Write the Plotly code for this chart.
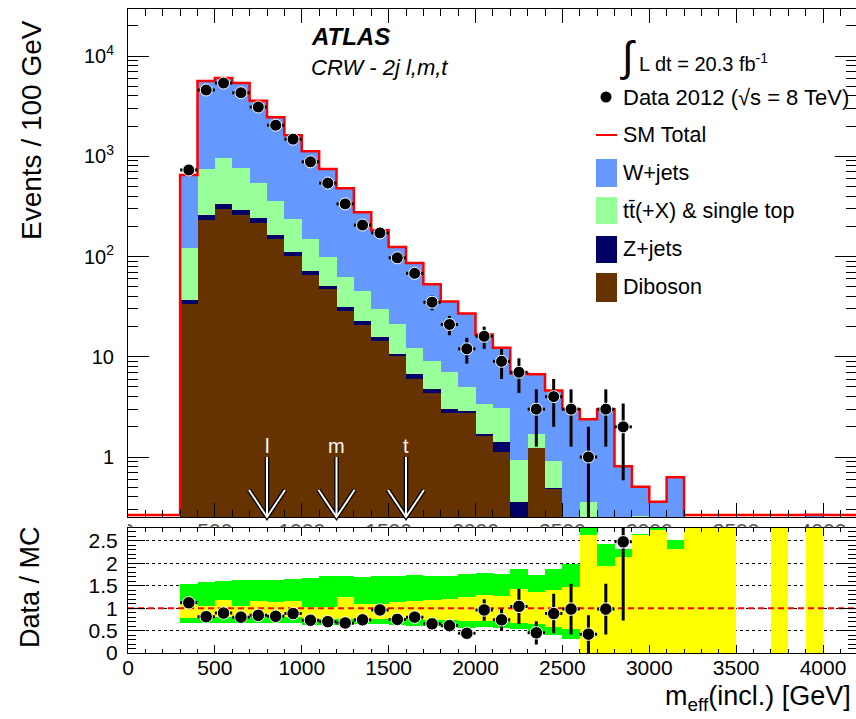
import numpy as np
import plotly.graph_objects as go

# ---------------- data ----------------
BIN_W = 100
bin_lo = list(range(300, 4000, 100))          # 37 bins, 300 .. 3900 GeV

diboson = [33.6, 231, 297, 258, 215, 149, 101, 65.4, 47.0, 28.5, 20.7, 14.3, 10.15, 6.04, 4.32,
           2.75, 2.77, 1.63, 1.11, 0, 1.24, 0.48, 0, 0, 0, 0, 0, 0, 0,
           0, 0, 0, 0, 0, 0, 0, 0]
zjets = [3.2, 27, 38, 32, 27, 15, 9, 6.2, 4.2, 2.6, 2.0, 1.6, 0.45, 0.76, 0.40,
         0.28, 0.11, 0.05, 0.31, 0.358, 0, 0.01, 0, 0, 0, 0, 0, 0, 0,
         0, 0, 0, 0, 0, 0, 0, 0]
ttbar = [85, 487, 625, 472, 298, 192, 126, 77.4, 47.8, 31.1, 22.8, 13.8, 10.6, 5.5, 4.38,
         4.07, 2.08, 1.70, 1.64, 0.572, 0.45, 0.43, 0, 0.353, 0, 0, 0.26, 0, 0,
         0, 0, 0, 0, 0, 0, 0, 0]
wjets = [528, 4875, 5070, 4608, 3030, 2094, 1384, 971, 646, 418, 231, 153, 103, 73.7, 43.9,
         28.4, 22.1, 13.3, 9.24, 5.87, 5.01, 3.68, 3.0, 2.03, 3.0, 0.81, 0.245, 0.358, 0.627,
         0, 0, 0, 0, 0, 0, 0, 0.265]

data_lo = list(range(300, 2900, 100))         # 26 data bins
data_counts = [730, 4580, 5370, 4300, 3100, 2040, 1480, 880, 540, 335, 206, 172, 97, 68, 35,
               21, 12, 16, 9, 7, 3, 4, 3, 1, 3, 2]
ratio_values = [1.12, 0.81, 0.89, 0.80, 0.84, 0.82, 0.88, 0.73, 0.70, 0.67, 0.74, 0.96, 0.75, 0.80,
                0.65, 0.61, 0.44, 0.96, 0.74, 1.04, 0.45, 0.88, 0.98, 0.42, 0.98, 2.48]

N = None
green_lo = [0.68, 0.68, 0.68, 0.68, 0.68, 0.68, 0.67, 0.64, 0.64, 0.64, 0.65, 0.65, 0.64, 0.62, 0.62,
            0.60, 0.58, 0.60, 0.56, 0.55, 0.48, 0.42, 0.32, 0, 0, 0, 0, 0, 0,
            N, N, N, N, N, N, N, N]
green_hi = [1.56, 1.60, 1.62, 1.63, 1.64, 1.64, 1.66, 1.69, 1.72, 1.74, 1.70, 1.72, 1.74, 1.76, 1.72,
            1.73, 1.78, 1.79, 1.78, 1.88, 1.75, 1.88, 2.00, 3.0, 2.44, 2.33, 2.67, 3.0, 2.54,
            N, N, N, N, N, N, N, N]
yellow_lo = [0.80, 0.82, 0.82, 0.82, 0.82, 0.82, 0.82, 0.78, 0.78, 0.76, 0.78, 0.78, 0.77, 0.76, 0.75,
             0.74, 0.73, 0.72, 0.72, 0.68, 0.66, 0.60, 0.55, 0, 0, 0, 0, 0, 0,
             0, 0, 0, N, N, 0, N, 0]
yellow_hi = [1.15, 1.06, 1.19, 1.05, 1.17, 1.15, 1.17, 1.04, 1.04, 1.27, 1.10, 1.10, 1.15, 1.18, 1.20,
             1.22, 1.26, 1.31, 1.29, 1.43, 1.38, 1.42, 1.48, 2.64, 1.96, 2.15, 2.64, 2.75, 2.34,
             3, 3, 3, N, N, 3, N, 3]

cut_values = [800, 1200, 1600]
cut_labels = ["l", "m", "t"]

x_ticks = [0, 500, 1000, 1500, 2000, 2500, 3000, 3500, 4000]
x_tick_text = ["0", "500", "1000", "1500", "2000", "2500", "3000", "3500", "4000"]
y_main_ticks = [1, 10, 100, 1000, 10000]
y_main_text = ["1", "10", "10<sup>2</sup>", "10<sup>3</sup>", "10<sup>4</sup>"]
y_ratio_ticks = [0, 0.5, 1, 1.5, 2, 2.5]
y_ratio_text = ["0", "0.5", "1", "1.5", "2", "2.5"]

# ---------------- styling / geometry ----------------
FONT = "Liberation Sans, Arial, Helvetica, sans-serif"
C_W, C_TT, C_Z, C_DB = "#6699ff", "#99ff99", "#000066", "#663300"
W_PX, H_PX = 856, 719
L, R, T, B = 128, 0, 9, 66
PW, PH = W_PX - L - R, H_PX - T - B
XMAX = PW / 0.17375
MAIN_BOTTOM_PX, RATIO_TOP_PX = 517, 527.5
YLOG_MIN, YLOG_MAX = -0.5985, 4.469


def fx(px):
    return (px - L) / PW


def fy(py):
    return (H_PX - B - py) / PH


centers = np.array(bin_lo) + BIN_W / 2
db = np.array(diboson, float)
zj = np.array(zjets, float)
tt = np.array(ttbar, float)
wj = np.array(wjets, float)
cum_db = db
cum_z = cum_db + zj
cum_tt = cum_z + tt
total = cum_tt + wj


def nz(a):
    a = np.array(a, float)
    return np.where(a > 0, a, np.nan)


fig = go.Figure()

# stacked MC (drawn as cumulative overlays, like THStack)
for vals, col in [(total, C_W), (cum_tt, C_TT), (cum_z, C_Z), (cum_db, C_DB)]:
    fig.add_trace(go.Bar(x=centers, y=nz(vals), width=BIN_W, marker=dict(color=col, line=dict(width=0)),
                         opacity=1, xaxis="x", yaxis="y", showlegend=False, hoverinfo="skip"))

# SM total outline
floor = 10 ** (YLOG_MIN + 0.02)
step_x = [0] + bin_lo + [bin_lo[-1] + BIN_W, 4200]
step_y = [floor] + [max(v, floor) for v in total] + [floor, floor]
fig.add_trace(go.Scatter(x=step_x, y=step_y, mode="lines", line=dict(color="#ff0000", width=2.5, shape="hv"),
                         xaxis="x", yaxis="y", showlegend=False, hoverinfo="skip"))

# data
dc = np.array(data_counts, float)
err = np.sqrt(dc)
dcent = np.array(data_lo) + BIN_W / 2
fig.add_trace(go.Scatter(
    x=dcent, y=dc, mode="markers",
    marker=dict(color="black", size=12, line=dict(color="white", width=1)),
    error_y=dict(type="data", array=err, arrayminus=np.minimum(err, dc * 0.999),
                 color="black", thickness=3, width=0),
    error_x=dict(type="constant", value=BIN_W / 2, color="black", thickness=3, width=0),
    xaxis="x", yaxis="y", showlegend=False, hoverinfo="skip"))

# main-panel x labels, mostly hidden under the ratio pad: only their top peeks into the gap
fig.add_trace(go.Scatter(x=x_ticks, y=[-0.48] * len(x_ticks), mode="text", text=x_tick_text,
                         textposition="middle center", cliponaxis=True,
                         textfont=dict(family=FONT, size=21, color="#555555"),
                         xaxis="x3", yaxis="y3", showlegend=False, hoverinfo="skip"))

# ---------------- ratio panel ----------------
glo = np.array([np.nan if v is None else v for v in green_lo])
ghi = np.array([np.nan if v is None else v for v in green_hi])
ylo = np.array([np.nan if v is None else v for v in yellow_lo])
yhi = np.array([np.nan if v is None else v for v in yellow_hi])
fig.add_trace(go.Bar(x=centers, y=ghi - glo, base=glo, width=BIN_W, marker=dict(color="#00ff00", line=dict(width=0)),
                     opacity=1, xaxis="x2", yaxis="y2", showlegend=False, hoverinfo="skip"))
fig.add_trace(go.Bar(x=centers, y=yhi - ylo, base=ylo, width=BIN_W, marker=dict(color="#ffff00", line=dict(width=0)),
                     opacity=1, xaxis="x2", yaxis="y2", showlegend=False, hoverinfo="skip"))
fig.add_trace(go.Scatter(x=[0, XMAX], y=[1, 1], mode="lines", line=dict(color="#ff0000", width=2, dash="6px,4px"),
                         xaxis="x2", yaxis="y2", showlegend=False, hoverinfo="skip"))
rv = np.array(ratio_values)
rerr = rv / np.sqrt(dc)
fig.add_trace(go.Scatter(
    x=dcent, y=rv, mode="markers",
    marker=dict(color="black", size=12.5, line=dict(color="white", width=1)),
    error_y=dict(type="data", array=rerr, color="black", thickness=3, width=0),
    error_x=dict(type="constant", value=BIN_W / 2, color="black", thickness=3, width=0),
    xaxis="x2", yaxis="y2", showlegend=False, hoverinfo="skip"))

# ---------------- layout ----------------
main_dom = [fy(MAIN_BOTTOM_PX), 1]
ratio_dom = [0, fy(RATIO_TOP_PX)]
gap_dom = [fy(RATIO_TOP_PX), fy(MAIN_BOTTOM_PX)]
tickfont = dict(family=FONT, size=21, color="black")

fig.update_layout(
    width=W_PX, height=H_PX, margin=dict(l=L, r=R, t=T, b=B, autoexpand=False),
    paper_bgcolor="white", plot_bgcolor="white", barmode="overlay", bargap=0,
    showlegend=False, font=dict(family=FONT, color="black"),
    xaxis=dict(domain=[0, 1], anchor="y", range=[0, XMAX], tickmode="array", tickvals=x_ticks,
               ticks="inside", ticklen=14, tickcolor="black", mirror="ticks", showline=True,
               linecolor="black", linewidth=1, showgrid=False, zeroline=False,
               showticklabels=False,
               minor=dict(tickmode="linear", tick0=0, dtick=100, ticks="inside", ticklen=7, tickcolor="black"),
               automargin=False),
    yaxis=dict(domain=main_dom, anchor="x", type="log", range=[YLOG_MIN, YLOG_MAX],
               tickmode="array", tickvals=y_main_ticks, ticktext=y_main_text,
               ticks="inside", ticklen=21, tickcolor="black", mirror="ticks", showline=True,
               linecolor="black", linewidth=1, showgrid=False, zeroline=False,
               tickfont=dict(family=FONT, size=20, color="black"), ticklabelstandoff=9,
               minor=dict(tickmode="array",
                          tickvals=[m * 10 ** e for e in range(-1, 5) for m in range(2, 10)],
                          ticks="inside", ticklen=10, tickcolor="black"),
               automargin=False),
    xaxis2=dict(domain=[0, 1], anchor="y2", range=[0, XMAX], tickmode="array", tickvals=x_ticks,
                ticks="inside", ticklen=8, tickcolor="black", mirror="ticks", showline=True,
                linecolor="black", linewidth=1, showgrid=False, zeroline=False,
                tickfont=tickfont, ticklabelstandoff=-4,
                minor=dict(tickmode="linear", tick0=0, dtick=100, ticks="inside", ticklen=4, tickcolor="black"),
                automargin=False),
    yaxis2=dict(domain=ratio_dom, anchor="x2", range=[0, 2.8], tickmode="array", tickvals=y_ratio_ticks,
                ticktext=y_ratio_text, ticks="inside", ticklen=17, tickcolor="black", mirror="ticks",
                showline=True, linecolor="black", linewidth=1, showgrid=True, gridcolor="black",
                gridwidth=1, griddash="dot", zeroline=False, tickfont=tickfont, ticklabelstandoff=5,
                minor=dict(tickmode="linear", tick0=0, dtick=0.1, ticks="inside", ticklen=8, tickcolor="black"),
                automargin=False),
    xaxis3=dict(domain=[0, 1], anchor="y3", range=[0, XMAX], visible=False, fixedrange=True),
    yaxis3=dict(domain=gap_dom, anchor="x3", range=[0, 1], visible=False, fixedrange=True),
)

# ---------------- cut arrows ----------------
shapes = []
wing = 18 / 0.17375
for cv in cut_values:
    path = (f"M {cv - wing},{fy(490)} L {cv},{fy(MAIN_BOTTOM_PX)} L {cv + wing},{fy(490)} "
            f"M {cv},{fy(457)} L {cv},{fy(MAIN_BOTTOM_PX)}")
    shapes.append(dict(type="path", path=path, xref="x", yref="paper", line=dict(color="black", width=4.5), layer="above"))
    shapes.append(dict(type="path", path=path, xref="x", yref="paper", line=dict(color="white", width=2), layer="above"))

# ---------------- legend ----------------
legend_boxes = [(159, 187, C_W), (197, 224, C_TT), (236, 263, C_Z), (273, 302, C_DB)]
for y0, y1, col in legend_boxes:
    shapes.append(dict(type="rect", xref="paper", yref="paper", x0=fx(596), x1=fx(617), y0=fy(y1), y1=fy(y0),
                       fillcolor=col, line=dict(width=0)))
shapes.append(dict(type="line", xref="paper", yref="paper", x0=fx(596), x1=fx(617), y0=fy(135), y1=fy(135),
                   line=dict(color="#ff0000", width=2)))
shapes.append(dict(type="circle", xref="paper", yref="paper", x0=fx(600.5), x1=fx(611.5), y0=fy(102.5), y1=fy(91.5),
                   fillcolor="black", line=dict(width=0)))
fig.update_layout(shapes=shapes)

ann = []


def text(s, px, py, size, xanchor="left", yanchor="middle", color="black", angle=0):
    ann.append(dict(text=s, x=fx(px), y=fy(py), xref="paper", yref="paper", showarrow=False,
                    xanchor=xanchor, yanchor=yanchor, textangle=angle,
                    font=dict(family=FONT, size=size, color=color)))


for cv, lab in zip(cut_values, cut_labels):
    ann.append(dict(text=lab, x=cv, y=fy(446), xref="x", yref="paper", showarrow=False, xanchor="center",
                    yanchor="middle", font=dict(family=FONT, size=20, color="white")))

text("<b><i>ATLAS</i></b>", 309, 37, 24)
text("<i>CRW - 2j l,m,t</i>", 309, 68, 22)
text("∫", 628, 56, 42, xanchor="center")
text("L dt = 20.3 fb<sup>-1</sup>", 637, 63, 20)
text("Data 2012 (√s = 8 TeV)", 621, 97, 22)
text("SM Total", 621, 135, 21.5)
text("W+jets", 621, 173, 21.5)
text("tt\u0304(+X) & single top", 621, 211, 21.5)
text("Z+jets", 621, 249, 21.5)
text("Diboson", 621, 287, 21.5)

text("Events / 100 GeV", 31, 130, 28, xanchor="center", angle=-90)
text("Data / MC", 30, 587, 27, xanchor="center", angle=-90)
text("m<sub>eff</sub>(incl.) [GeV]", 853, 698, 27, xanchor="right")

fig.update_layout(annotations=ann)

fig.write_html("out.html")
